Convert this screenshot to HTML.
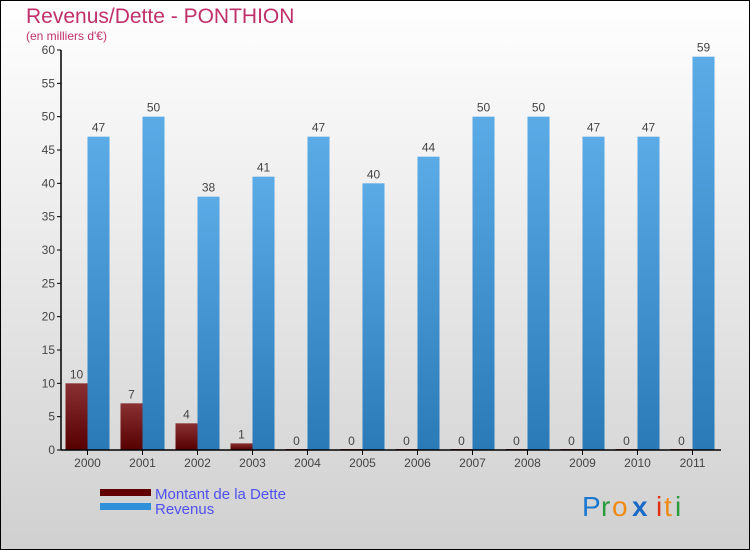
<!DOCTYPE html>
<html><head><meta charset="utf-8"><style>
body{margin:0}
#c{width:750px;height:550px;position:relative;overflow:hidden}
svg text{font-family:"Liberation Sans",sans-serif}
</style></head><body>
<div id="c">
<svg id="s" width="750" height="550" xmlns="http://www.w3.org/2000/svg">
<defs>
<linearGradient id="bg" x1="0" y1="0" x2="0" y2="1"><stop offset="0" stop-color="#ffffff"/><stop offset="1" stop-color="#d0d0d0"/></linearGradient>
<linearGradient id="gd" x1="0" y1="0" x2="0" y2="1"><stop offset="0" stop-color="#8a3033"/><stop offset="1" stop-color="#560000"/></linearGradient>
<linearGradient id="gr" x1="0" y1="0" x2="0" y2="1"><stop offset="0" stop-color="#5aabe6"/><stop offset="1" stop-color="#2a7ab8"/></linearGradient>
</defs>
<rect x="0.5" y="0.5" width="749" height="549" fill="url(#bg)" stroke="#000"/>
<text x="26" y="23" font-size="21" fill="#c0306a">Revenus/Dette - PONTHION</text>
<text x="26" y="40" font-size="12" fill="#c0306a">(en milliers d'€)</text>
<g id="plot"></g>
<rect x="100" y="489" width="51" height="7" fill="#600000"/>
<text x="155" y="499" font-size="15" fill="#5050f0">Montant de la Dette</text>
<rect x="100" y="503" width="51" height="7" fill="#2e90d8"/>
<text x="155" y="514" font-size="15" fill="#5050f0">Revenus</text>
<g font-size="28">
<text x="582" y="516" fill="#1a78d0">P</text><text x="601" y="516" fill="#2a9a3a">r</text><text x="612" y="516" fill="#f08a10">o</text><text x="632" y="516" fill="#1a6ac8" font-weight="bold">x</text><text x="656" y="516" fill="#e03010">i</text><text x="664" y="516" fill="#f08a10">t</text><text x="675" y="516" fill="#2a9a3a">i</text>
</g>
</svg></div>
<script>
const categories=["2000","2001","2002","2003","2004","2005","2006","2007","2008","2009","2010","2011"];
const dette=[10,7,4,1,0,0,0,0,0,0,0,0];
const revenus=[47,50,38,41,47,40,44,50,50,47,47,59];
const yTicks=[0,5,10,15,20,25,30,35,40,45,50,55,60];
const NS="http://www.w3.org/2000/svg";
const g=document.getElementById('plot');
const y=v=>450-v*400/60;
const xc=i=>87.5+55*i;
function mk(t,a,p){const e=document.createElementNS(NS,t);for(const k in a)e.setAttribute(k,a[k]);(p||g).appendChild(e);return e;}
yTicks.forEach(v=>{
 const l=mk('line',{x1:57,x2:61,y1:y(v),y2:y(v),stroke:'#000'});
 
 
 const t=mk('text',{x:55,y:y(v)+4,'font-size':12,fill:'#444','text-anchor':'end'});
 t.textContent=v;
 
 
});
categories.forEach((c,i)=>{
 const x=xc(i);
 const hd=Math.max(y(0)-y(dette[i]),1);
 const b1=mk('rect',{x:x-22,y:y(0)-hd,width:22,height:hd,fill:'url(#gd)'});
 
 
 const t1=mk('text',{x:x-11,y:y(dette[i])-5,'font-size':12,fill:'#444','text-anchor':'middle'});
 t1.textContent=dette[i];
 
 
 const b2=mk('rect',{x:x,y:y(revenus[i]),width:22,height:y(0)-y(revenus[i]),fill:'url(#gr)'});
 
 
 const t2=mk('text',{x:x+11,y:y(revenus[i])-5,'font-size':12,fill:'#444','text-anchor':'middle'});
 t2.textContent=revenus[i];
 
 
 const tk=mk('line',{x1:x,x2:x,y1:450,y2:455,stroke:'#000'});
 
 
 const tl=mk('text',{x:x,y:467,'font-size':12,fill:'#444','text-anchor':'middle'});
 tl.textContent=c;
 
 
});
const ya=mk('line',{x1:61,x2:61,y1:50,y2:450,stroke:'#000','stroke-width':1.5});


const xa=mk('line',{x1:61,x2:721,y1:450,y2:450,stroke:'#000','stroke-width':1.5});


</script>
</body></html>
